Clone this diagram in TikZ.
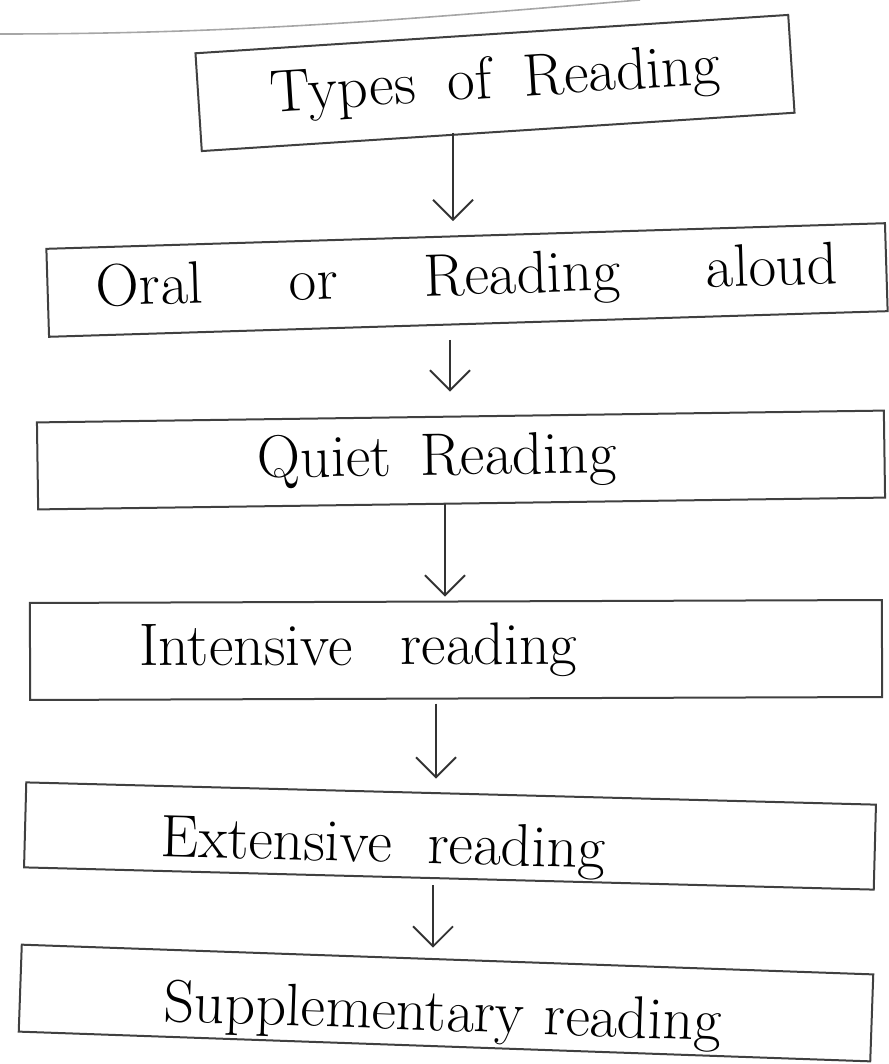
\documentclass[tikz,border=0pt]{standalone}
\usetikzlibrary{arrows.meta}
\begin{document}
\begin{tikzpicture}[x=0.5pt, y=-0.5pt,
    stage/.style={draw=black!75, line width=1pt, rectangle, inner sep=2pt,
        font=\fontsize{30}{33}\selectfont, align=left},
    flow/.style={draw=black!80, line width=0.9pt,
        -{Straight Barb[length=10pt,width=20pt]}}]
    \useasboundingbox (0,0) rectangle (888,1064);
    % ruled line of the page
    \draw[black!35, line width=0.8pt] (0,34) .. controls (250,34) and (420,18) .. (640,0);
    % the boxes
    \node[stage, text width=293pt, minimum height=49pt, align=center, rotate=3.7]
        (types) at (495,83) {Types\hspace{16pt}of\hspace{16pt}Reading\hspace*{14pt}};
    \node[stage, text width=415.5pt, minimum height=44pt, align=center, rotate=1.75]
        (oral) at (467,280) {\makebox[371pt]{Oral\hfill or\hfill Reading\hfill aloud}};
    \node[stage, text width=419.5pt, minimum height=43.5pt, rotate=0.8]
        (quiet) at (461,460) {\hspace*{108pt}Quiet\hspace{14pt}Reading};
    \node[stage, text width=422pt, minimum height=48.5pt, rotate=0.2]
        (intensive) at (456,650) {\hspace*{52.5pt}Intensive\hspace{24pt}reading};
    \node[stage, text width=421pt, minimum height=42.5pt, text height=32pt, text depth=4pt, rotate=-1.5]
        (extensive) at (450,836) {\hspace*{66pt}Extensive\hspace{18pt}reading};
    \node[stage, text width=422pt, minimum height=43.5pt, text height=32pt, text depth=4pt, rotate=-2]
        (supplementary) at (446,1003) {\hspace*{70pt}Supplementary reading};
    % where the arrows run
    \coordinate (a1) at (453,0);
    \coordinate (a2) at (450,0);
    \coordinate (a3) at (445,0);
    \coordinate (a4) at (436,0);
    \coordinate (a5) at (433,0);
    \draw[flow, shorten >=7pt] (types.south -| a1) -- (oral.north -| a1);
    \draw[flow, shorten <=7.5pt, shorten >=12pt] (oral.south -| a2) -- (quiet.north -| a2);
    \draw[flow, shorten >=2pt] (quiet.south -| a3) -- (intensive.north -| a3);
    \draw[flow, shorten <=2pt, shorten >=7pt] (intensive.south -| a4) -- (extensive.north -| a4);
    \draw[flow, shorten <=3pt, shorten >=5.5pt] (extensive.south -| a5) -- (supplementary.north -| a5);
\end{tikzpicture}
\end{document}
